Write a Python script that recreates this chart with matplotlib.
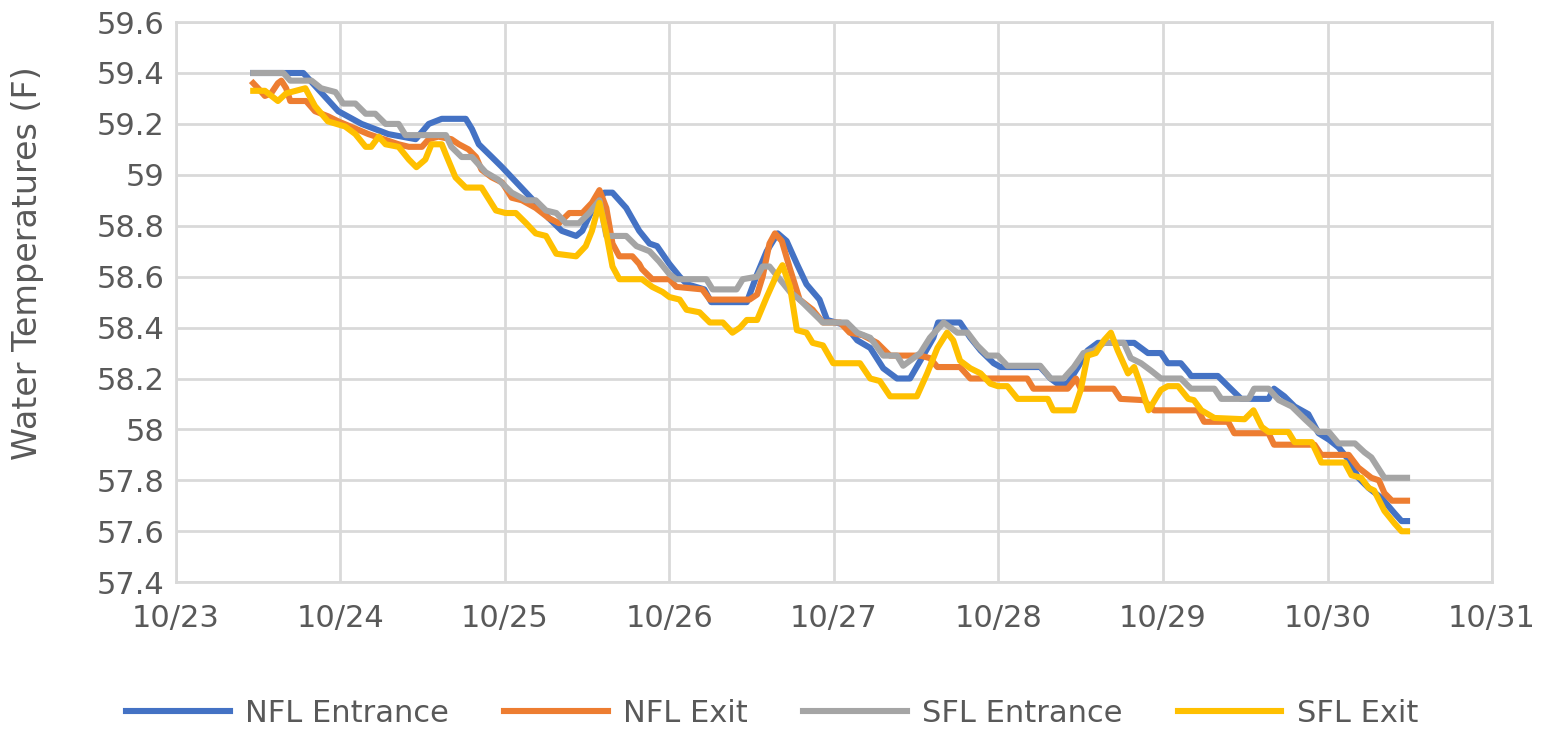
import matplotlib
matplotlib.use("Agg")
import matplotlib.pyplot as plt
import matplotlib.dates as mdates
import pandas as pd
from matplotlib.ticker import FuncFormatter, MultipleLocator

plt.rcParams['font.family'] = ['Liberation Sans Narrow', 'DejaVu Sans']

start = pd.Timestamp('2019-10-23')

# hours after 10/23 00:00, water temperature (F)
nfl_ent_h = [11.3, 18.6, 23.7, 27.1, 31.0, 35.0, 36.9, 38.8, 42.3, 43.2, 44.2, 46.1, 47.6, 49.0, 51.1,
             52.5, 54.4, 56.3, 58.4, 59.3, 60.7, 62.5, 63.7, 65.7, 67.6, 69.1, 70.2, 72.0, 73.5, 74.6,
             77.1, 78.1, 83.3, 84.8, 86.2, 87.8, 89.1, 90.6, 92.0, 93.9, 95.0, 97.6, 99.4, 101.3,
             103.2, 105.2, 107.1, 108.6, 110.5, 111.2, 114.4, 115.9, 117.4, 119.3, 120.3, 126.1,
             127.6, 128.6, 130.1, 131.6, 133.0, 134.5, 139.8, 140.8, 141.8, 143.7, 144.7, 146.6,
             147.7, 148.1, 152.0, 153.5, 155.4, 159.4, 160.2, 161.7, 163.2, 165.2, 166.7, 168.2,
             169.6, 171.1, 172.5, 174.0, 175.9, 177.8, 178.8, 179.6]
nfl_ent_t = [59.40, 59.40, 59.25, 59.20, 59.16, 59.14, 59.20, 59.22, 59.22, 59.18, 59.12, 59.07, 59.03,
             58.99, 58.93, 58.89, 58.83, 58.78, 58.76, 58.78, 58.86, 58.93, 58.93, 58.87, 58.78, 58.73,
             58.72, 58.65, 58.60, 58.57, 58.55, 58.50, 58.50, 58.61, 58.70, 58.77, 58.74, 58.65, 58.57,
             58.51, 58.43, 58.41, 58.35, 58.32, 58.24, 58.20, 58.20, 58.27, 58.36, 58.42, 58.42, 58.36,
             58.31, 58.26, 58.245, 58.245, 58.20, 58.18, 58.18, 58.245, 58.31, 58.34, 58.34, 58.32,
             58.30, 58.30, 58.26, 58.26, 58.225, 58.21, 58.21, 58.17, 58.12, 58.12, 58.16, 58.13,
             58.09, 58.06, 57.985, 57.96, 57.93, 57.88, 57.81, 57.77, 57.73, 57.67, 57.64, 57.64]

nfl_exit_h = [11.3, 12.0, 13.0, 13.9, 14.9, 15.4, 16.1, 16.7, 19.0, 20.3, 22.2, 23.7, 28.1, 32.5, 34.0,
              35.9, 36.9, 38.3, 40.2, 41.3, 42.7, 43.8, 44.6, 46.1, 47.6, 49.0, 50.5, 52.5, 54.4, 55.9,
              57.4, 59.3, 60.7, 61.8, 62.8, 63.7, 64.7, 66.6, 67.6, 68.0, 69.5, 72.0, 73.0, 76.8, 77.9,
              83.7, 84.8, 85.6, 86.6, 87.4, 88.4, 89.6, 91.0, 92.9, 94.4, 96.9, 98.3, 100.2, 102.3,
              103.8, 104.2, 108.6, 110.0, 111.1, 114.4, 115.9, 124.2, 125.1, 130.1, 131.3, 132.0,
              136.8, 137.8, 141.2, 142.7, 149.1, 150.0, 153.5, 154.4, 159.4, 160.2, 166.1, 167.1,
              171.1, 172.5, 174.4, 175.5, 176.3, 177.4, 179.6]
nfl_exit_t = [59.36, 59.34, 59.31, 59.32, 59.36, 59.37, 59.34, 59.29, 59.29, 59.25, 59.23, 59.21, 59.16,
              59.12, 59.11, 59.11, 59.14, 59.15, 59.14, 59.12, 59.10, 59.07, 59.02, 58.99, 58.97, 58.91,
              58.90, 58.87, 58.83, 58.81, 58.85, 58.85, 58.89, 58.94, 58.87, 58.73, 58.68, 58.68, 58.65,
              58.63, 58.59, 58.59, 58.56, 58.55, 58.51, 58.51, 58.53, 58.60, 58.73, 58.77, 58.74, 58.63,
              58.51, 58.47, 58.42, 58.42, 58.38, 58.37, 58.34, 58.30, 58.29, 58.29, 58.28, 58.245,
              58.245, 58.20, 58.20, 58.16, 58.16, 58.20, 58.16, 58.16, 58.12, 58.115, 58.075, 58.075,
              58.03, 58.03, 57.985, 57.985, 57.94, 57.94, 57.90, 57.90, 57.85, 57.81, 57.80, 57.75,
              57.72, 57.72]

sfl_ent_h = [11.3, 15.7, 16.7, 19.8, 21.2, 23.3, 24.4, 26.2, 27.7, 29.1, 30.6, 32.5, 33.5, 39.4, 40.2,
             41.7, 43.2, 45.2, 47.1, 49.0, 51.1, 52.5, 54.0, 55.5, 56.9, 58.8, 60.3, 61.8, 62.8, 65.7,
             67.2, 69.1, 70.5, 72.0, 73.0, 77.4, 78.3, 81.8, 82.7, 84.8, 85.6, 86.6, 88.1, 89.6, 91.0,
             92.5, 94.4, 97.9, 99.4, 101.3, 103.2, 105.2, 106.1, 107.1, 108.6, 110.0, 112.0, 114.0,
             115.5, 116.9, 118.4, 119.9, 121.3, 126.1, 127.6, 129.5, 131.0, 132.4, 133.9, 135.4,
             138.3, 139.3, 140.8, 142.3, 143.7, 146.6, 147.7, 148.1, 151.5, 152.5, 156.5, 157.3,
             159.4, 160.9, 162.8, 164.7, 166.7, 168.2, 169.6, 172.0, 173.4, 174.4, 176.3, 179.6]
sfl_ent_t = [59.40, 59.40, 59.37, 59.37, 59.34, 59.325, 59.28, 59.28, 59.24, 59.24, 59.20, 59.20, 59.156,
             59.156, 59.11, 59.07, 59.07, 59.01, 58.98, 58.93, 58.90, 58.90, 58.86, 58.85, 58.81, 58.81,
             58.85, 58.90, 58.76, 58.76, 58.72, 58.70, 58.66, 58.61, 58.59, 58.59, 58.55, 58.55, 58.59,
             58.60, 58.64, 58.64, 58.59, 58.54, 58.51, 58.47, 58.42, 58.42, 58.38, 58.36, 58.29, 58.29,
             58.25, 58.27, 58.30, 58.36, 58.42, 58.38, 58.38, 58.33, 58.29, 58.29, 58.25, 58.25, 58.20,
             58.20, 58.245, 58.30, 58.31, 58.34, 58.34, 58.28, 58.26, 58.23, 58.20, 58.20, 58.17,
             58.16, 58.16, 58.12, 58.12, 58.16, 58.16, 58.115, 58.09, 58.04, 57.99, 57.99, 57.945,
             57.945, 57.91, 57.89, 57.81, 57.81]

sfl_exit_h = [11.3, 13.0, 14.9, 16.1, 18.9, 20.3, 22.2, 24.7, 26.2, 27.7, 28.5, 29.6, 30.6, 32.5, 34.0,
              35.1, 36.4, 37.3, 38.8, 39.4, 40.8, 42.3, 44.6, 46.7, 48.1, 49.6, 51.1, 52.5, 54.0, 55.5,
              58.4, 59.8, 60.7, 61.8, 62.8, 63.7, 64.7, 68.0, 69.5, 71.0, 72.0, 73.5, 74.5, 76.4, 77.9,
              79.8, 81.2, 82.3, 83.3, 84.8, 86.2, 87.7, 88.5, 89.6, 90.6, 92.0, 92.9, 94.4, 95.9, 99.8,
              101.3, 102.7, 104.2, 108.1, 109.6, 111.1, 112.5, 113.4, 114.4, 115.9, 117.4, 118.8,
              119.9, 121.3, 122.8, 127.2, 128.0, 131.0, 132.0, 133.0, 134.2, 135.4, 136.4, 137.4,
              138.9, 139.8, 140.8, 141.9, 143.7, 144.7, 146.2, 147.7, 148.5, 149.6, 151.5, 155.9,
              157.2, 158.4, 159.4, 162.3, 163.2, 165.7, 167.1, 170.5, 171.5, 172.9, 174.0, 174.8,
              176.3, 177.8, 178.8, 179.6]
sfl_exit_t = [59.33, 59.33, 59.29, 59.32, 59.34, 59.27, 59.21, 59.19, 59.16, 59.11, 59.11, 59.15, 59.12,
              59.11, 59.06, 59.03, 59.06, 59.12, 59.12, 59.08, 58.99, 58.95, 58.95, 58.86, 58.85, 58.85,
              58.81, 58.77, 58.76, 58.69, 58.68, 58.72, 58.78, 58.89, 58.77, 58.64, 58.59, 58.59, 58.56,
              58.54, 58.52, 58.51, 58.47, 58.46, 58.42, 58.42, 58.38, 58.40, 58.43, 58.43, 58.52, 58.61,
              58.645, 58.56, 58.39, 58.38, 58.34, 58.33, 58.26, 58.26, 58.20, 58.19, 58.13, 58.13, 58.22,
              58.32, 58.38, 58.35, 58.27, 58.24, 58.22, 58.18, 58.17, 58.17, 58.12, 58.12, 58.075,
              58.075, 58.155, 58.29, 58.30, 58.35, 58.38, 58.31, 58.22, 58.245, 58.17, 58.075, 58.155,
              58.17, 58.17, 58.12, 58.115, 58.075, 58.045, 58.04, 58.075, 58.01, 57.99, 57.99, 57.95,
              57.95, 57.87, 57.87, 57.82, 57.81, 57.77, 57.76, 57.68, 57.63, 57.60, 57.60]

series = [
    ('NFL Entrance', nfl_ent_h, nfl_ent_t, '#4472C4'),
    ('NFL Exit', nfl_exit_h, nfl_exit_t, '#ED7D31'),
    ('SFL Entrance', sfl_ent_h, sfl_ent_t, '#A5A5A5'),
    ('SFL Exit', sfl_exit_h, sfl_exit_t, '#FFC000'),
]

fig = plt.figure(figsize=(15.42, 7.36), dpi=100)
ax = fig.add_axes([0.114, 0.209, 0.8536, 0.761])

for name, hrs, temps, col in series:
    x = start + pd.to_timedelta(hrs, unit='h')
    ax.plot(x, temps, color=col, lw=4.4, label=name, solid_joinstyle='round')

ax.set_ylim(57.4, 59.6)
ax.set_xlim(start, pd.Timestamp('2019-10-31'))
ax.yaxis.set_major_locator(MultipleLocator(0.2))
ax.yaxis.set_major_formatter(FuncFormatter(lambda v, p: '%g' % round(v, 1)))
ax.xaxis.set_major_locator(mdates.DayLocator())
ax.xaxis.set_major_formatter(mdates.DateFormatter('%m/%d'))

ax.grid(True, color='#D9D9D9', lw=2)
ax.set_axisbelow(True)
for s in ax.spines.values():
    s.set_color('#D9D9D9')
    s.set_linewidth(2)
ax.tick_params(length=0, labelsize=22, colors='#595959', pad=16)
ax.tick_params(axis='y', pad=8)
ax.set_ylabel('Water Temperatures (F)', fontsize=24, color='#595959')
ax.yaxis.set_label_coords(-0.1, 0.57)

ax.legend(loc='center', bbox_to_anchor=(0.453, -0.234), ncol=4, frameon=False,
          fontsize=22, handlelength=3.4, handletextpad=0.5, columnspacing=1.8,
          labelcolor='#595959')

fig.savefig('out.png', dpi=100)
